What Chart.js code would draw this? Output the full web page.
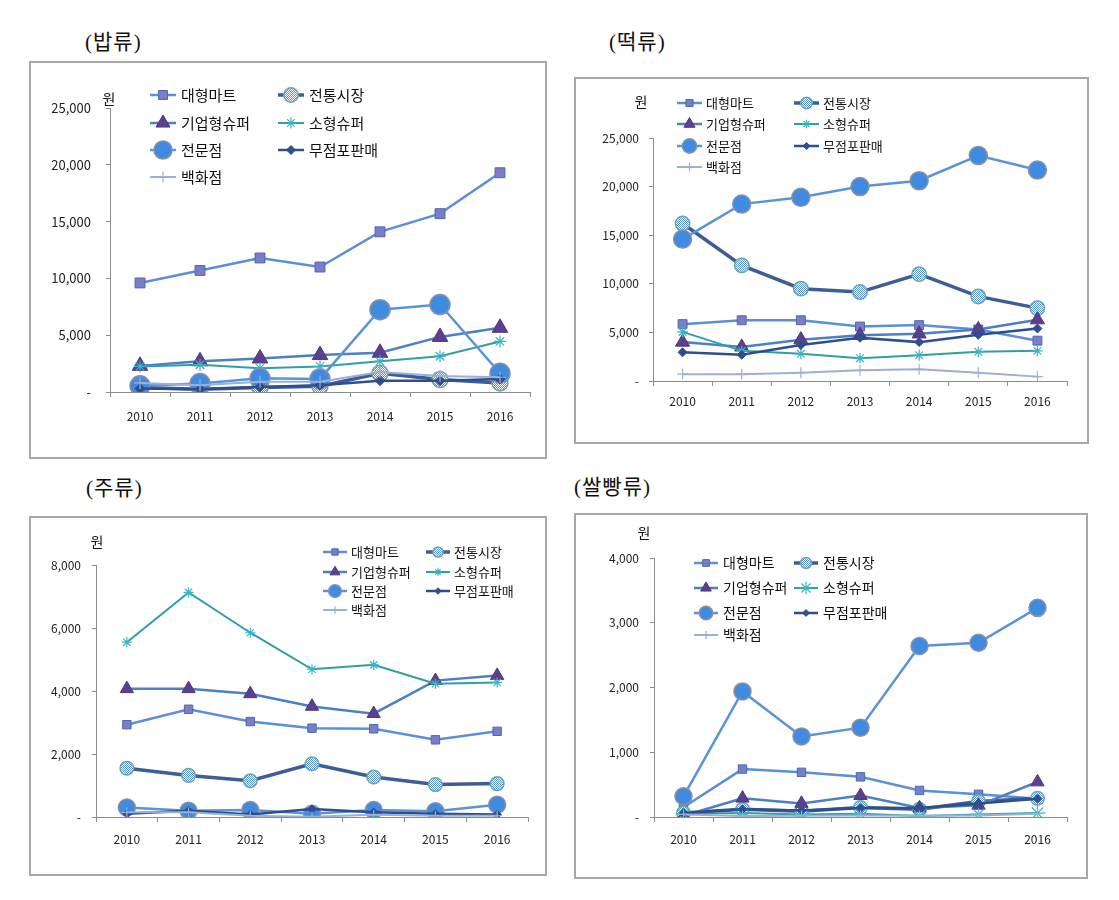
<!DOCTYPE html>
<html>
<head>
<meta charset="utf-8">
<script src="https://cdn.jsdelivr.net/npm/chart.js@4/dist/chart.umd.min.js"></script>
<style>
body{margin:0;background:#fff;width:1119px;height:900px;position:relative;overflow:hidden;font-family:"Noto Sans CJK KR",sans-serif}
.box{position:absolute;border:2px solid #a8a8a8;box-sizing:border-box}
.title{position:absolute;font-family:"Liberation Serif","Noto Sans CJK KR",serif;font-size:21px;font-weight:normal;letter-spacing:1px;color:#111;line-height:1;white-space:nowrap}
canvas{position:absolute}
</style>
</head>
<body>
<div class="title" style="left:85px;top:32px">(밥류)</div>
<div class="title" style="left:609px;top:32px">(떡류)</div>
<div class="title" style="left:86px;top:478px">(주류)</div>
<div class="title" style="left:574px;top:477px">(쌀빵류)</div>

<div class="box" style="left:29px;top:61px;width:518px;height:398px"></div>
<div class="box" style="left:574px;top:77px;width:515px;height:367px"></div>
<div class="box" style="left:29px;top:516px;width:518px;height:360px"></div>
<div class="box" style="left:574px;top:513px;width:514px;height:366px"></div>

<canvas id="rice" width="516" height="396" style="left:30px;top:62px"></canvas>
<canvas id="ricecake" width="513" height="365" style="left:575px;top:78px"></canvas>
<canvas id="liquor" width="516" height="358" style="left:30px;top:517px"></canvas>
<canvas id="ricebread" width="512" height="364" style="left:575px;top:514px"></canvas>

<script>
// 연도, 판매채널
const years = ['2010', '2011', '2012', '2013', '2014', '2015', '2016'];
const channels = ['대형마트', '전통시장', '기업형슈퍼', '소형슈퍼', '전문점', '무점포판매', '백화점'];

// (밥류)
const riceMart     = [9600, 10700, 11800, 11000, 14100, 15700, 19300];
const riceMarket   = [400, 250, 400, 500, 1650, 1100, 800];
const riceSsm      = [2300, 2700, 2950, 3250, 3450, 4850, 5650];
const riceSmall    = [2250, 2400, 2100, 2250, 2700, 3150, 4450];
const riceSpecial  = [550, 750, 1200, 1150, 7250, 7700, 1650];
const riceNonstore = [300, 250, 450, 600, 1000, 1000, 1150];
const riceDept     = [800, 600, 900, 900, 1750, 1400, 1300];

// (떡류)
const cakeMart     = [5850, 6250, 6250, 5600, 5750, 5300, 4150];
const cakeMarket   = [16200, 11900, 9500, 9150, 11000, 8700, 7500];
const cakeSsm      = [4000, 3500, 4250, 4700, 4850, 5300, 6300];
const cakeSmall    = [5050, 3100, 2800, 2350, 2650, 3000, 3100];
const cakeSpecial  = [14600, 18200, 18900, 20000, 20600, 23200, 21700];
const cakeNonstore = [2950, 2700, 3700, 4450, 4000, 4750, 5400];
const cakeDept     = [700, 700, 850, 1100, 1200, 850, 450];

// (주류)
const liqMart      = [2930, 3420, 3030, 2820, 2800, 2450, 2720];
const liqMarket    = [1550, 1320, 1150, 1690, 1270, 1030, 1060];
const liqSsm       = [4070, 4070, 3910, 3510, 3280, 4330, 4490];
const liqSmall     = [5550, 7130, 5850, 4690, 4830, 4230, 4270];
const liqSpecial   = [300, 200, 220, 100, 220, 180, 390];
const liqNonstore  = [100, 200, 80, 250, 150, 100, 80];
const liqDept      = [150, 150, 40, 10, 70, 40, 40];

// (쌀빵류)
const breadMart     = [150, 740, 690, 620, 410, 350, 280];
const breadMarket   = [60, 120, 90, 145, 120, 240, 290];
const breadSsm      = [20, 290, 210, 330, 140, 180, 540];
const breadSmall    = [50, 60, 40, 50, 15, 40, 60];
const breadSpecial  = [320, 1940, 1245, 1380, 2640, 2690, 3230];
const breadNonstore = [60, 120, 100, 140, 140, 210, 280];
const breadDept     = [40, 15, 20, 25, 20, 25, 50];

// 전통시장 마커용 점무늬
function dotPattern() {
    const c = document.createElement('canvas');
    c.width = 2; c.height = 2;
    const g = c.getContext('2d');
    g.fillStyle = '#5d98d6';
    g.fillRect(0, 0, 2, 2);
    g.fillStyle = '#ffffff';
    g.fillRect(0, 0, 1, 1);
    g.fillRect(1, 1, 1, 1);
    return g.createPattern(c, 'repeat');
}
const dots = dotPattern();

const looks = [
    { line: '#5b8fd6', width: 2.5, point: 'rect',     r: 7,  fill: '#7a7ec8', edge: '#4a6aa8', bw: 1 },
    { line: '#3d5d98', width: 3.5, point: 'circle',   r: 8,  fill: dots,      edge: '#6aa6a8', bw: 1.5 },
    { line: '#4c7fc4', width: 2.5, point: 'triangle', r: 9,  fill: '#5e3f8f', edge: '#4c3a7a', bw: 1 },
    { line: '#2f9fa6', width: 2,   point: 'star',     r: 6,  fill: '#3ab4c4', edge: '#3ab4c4', bw: 1.2 },
    { line: '#5a94d8', width: 2.5, point: 'circle',   r: 10, fill: '#3f8be0', edge: '#8c8fa8', bw: 1.5 },
    { line: '#2e4e8c', width: 2.5, point: 'rectRot',  r: 5,  fill: '#2e4e8c', edge: '#2e4e8c', bw: 1 },
    { line: '#9ab0d8', width: 2,   point: 'cross',    r: 6,  fill: '#9ab0d8', edge: '#9ab0d8', bw: 1.2 }
];

const cornerLegend = {
    id: 'cornerLegend',
    afterDraw(chart) {
        const o = chart.options.plugins.cornerLegend;
        if (!o) return;
        const ctx = chart.ctx;
        ctx.save();
        chart.data.datasets.forEach((d, i) => {
            const x0 = o.cols[i % 2], y = o.rows[Math.floor(i / 2)];
            ctx.strokeStyle = d.borderColor;
            ctx.lineWidth = d.borderWidth;
            ctx.beginPath();
            ctx.moveTo(x0, y);
            ctx.lineTo(x0 + o.len, y);
            ctx.stroke();
            ctx.fillStyle = d.pointBackgroundColor;
            ctx.strokeStyle = d.pointBorderColor;
            ctx.lineWidth = d.pointBorderWidth;
            Chart.helpers.drawPoint(ctx, {
                pointStyle: d.pointStyle, radius: d.pointRadius * o.k, rotation: 0, borderWidth: d.pointBorderWidth
            }, x0 + o.len / 2, y);
            ctx.fillStyle = '#111';
            ctx.font = o.size + 'px "Noto Sans CJK KR"';
            ctx.textBaseline = 'middle';
            ctx.textAlign = 'left';
            ctx.fillText(d.label, x0 + o.len + o.gap, y);
        });
        ctx.font = '14px "Noto Sans CJK KR"';
        ctx.textAlign = 'center';
        ctx.fillText('원', o.unit[0], o.unit[1]);
        ctx.restore();
    }
};

function drawPanel(id, series, opt) {
    const axisColor = '#8c8c8c';
    new Chart(document.getElementById(id), {
        type: 'line',
        data: {
            labels: years,
            datasets: series.map((vals, i) => {
                const s = looks[i];
                let r = s.r * opt.k;
                if (i === 3 && opt.starR) r = opt.starR;
                return {
                    label: channels[i],
                    data: vals,
                    borderColor: s.line,
                    borderWidth: s.width,
                    pointStyle: s.point,
                    pointRadius: r,
                    pointBackgroundColor: s.fill,
                    pointBorderColor: s.edge,
                    pointBorderWidth: s.bw,
                    tension: 0,
                    order: 6 - i
                };
            })
        },
        options: {
            responsive: false,
            animation: false,
            devicePixelRatio: 1,
            layout: { padding: opt.pad },
            plugins: {
                legend: { display: false },
                tooltip: { enabled: false },
                cornerLegend: opt.legend
            },
            scales: {
                x: {
                    offset: true,
                    grid: { offset: true, drawOnChartArea: false, tickLength: 5, color: axisColor },
                    border: { color: axisColor },
                    ticks: { color: '#222', font: { family: '"Noto Sans CJK KR"', size: 12 }, padding: opt.xpad, maxRotation: 0 },
                    afterFit: s => { s.height = 40; }
                },
                y: {
                    min: 0,
                    max: opt.max,
                    grid: { drawOnChartArea: false, tickLength: 4, color: axisColor },
                    border: { color: axisColor },
                    ticks: {
                        stepSize: opt.step,
                        color: '#222',
                        font: { family: '"Noto Sans CJK KR"', size: opt.yfont || 12 },
                        padding: opt.ypad,
                        callback: v => v === 0 ? '-' : v.toLocaleString('en-US')
                    },
                    afterFit: s => { s.width = opt.yw; }
                }
            }
        },
        plugins: [cornerLegend]
    });
}

drawPanel('rice', [riceMart, riceMarket, riceSsm, riceSmall, riceSpecial, riceNonstore, riceDept], {
    k: 1, max: 25000, step: 5000, yw: 70, ypad: 15, xpad: 12, yfont: 13,
    pad: { left: 10, top: 46, right: 16, bottom: 26 },
    legend: { cols: [120, 248], rows: [33, 61, 88, 115], len: 26, gap: 5, size: 15, k: 0.9, unit: [79, 37] }
});

drawPanel('ricecake', [cakeMart, cakeMarket, cakeSsm, cakeSmall, cakeSpecial, cakeNonstore, cakeDept], {
    k: 0.9, max: 25000, step: 5000, yw: 68, ypad: 10, xpad: 8,
    pad: { left: 10, top: 60, right: 21, bottom: 22 },
    legend: { cols: [102, 219], rows: [25, 46, 68, 89], len: 25, gap: 4, size: 13, k: 0.8, unit: [66, 24] }
});

drawPanel('liquor', [liqMart, liqMarket, liqSsm, liqSmall, liqSpecial, liqNonstore, liqDept], {
    k: 0.85, max: 8000, step: 2000, yw: 58, ypad: 11, xpad: 10,
    pad: { left: 8, top: 48, right: 18, bottom: 18 },
    legend: { cols: [293, 396], rows: [35, 55, 74, 93], len: 24, gap: 4, size: 13, k: 0.75, unit: [67, 25] }
});

drawPanel('ricebread', [breadMart, breadMarket, breadSsm, breadSmall, breadSpecial, breadNonstore, breadDept], {
    k: 0.85, max: 4000, step: 1000, yw: 69, ypad: 11, xpad: 10, starR: 8,
    pad: { left: 10, top: 44, right: 20, bottom: 21 },
    legend: { cols: [119, 219], rows: [49, 74, 99, 121], len: 24, gap: 5, size: 14, k: 0.8, unit: [69, 19] }
});
</script>
</body>
</html>
